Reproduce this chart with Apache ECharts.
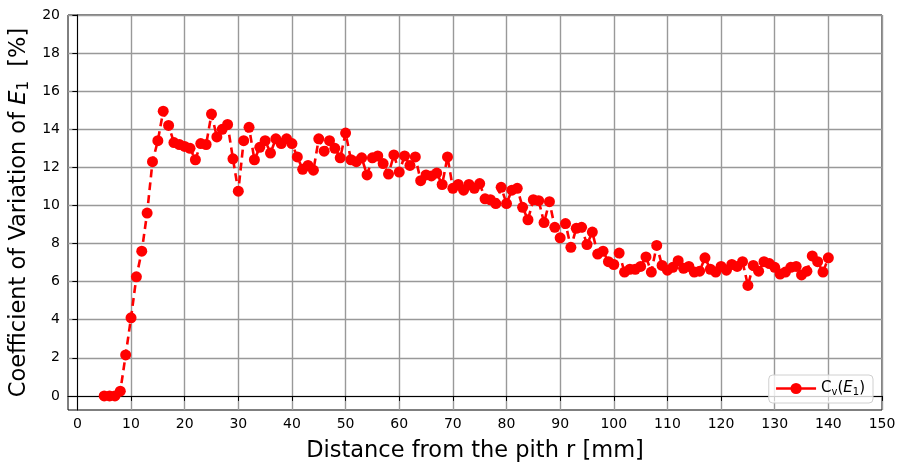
<!DOCTYPE html>
<html>
<head>
<meta charset="utf-8">
<script src="https://cdn.jsdelivr.net/npm/echarts@6/dist/echarts.min.js"></script>
<style>
html, body { margin: 0; padding: 0; background: #fff; }
#main { width: 901px; height: 465px; }
</style>
</head>
<body>
<div id="main"></div>
<script>
var radius = [5, 6, 7, 8, 9, 10, 11, 12, 13, 14, 15, 16, 17, 18, 19, 20, 21, 22, 23, 24,
	25, 26, 27, 28, 29, 30, 31, 32, 33, 34, 35, 36, 37, 38, 39, 40, 41, 42, 43, 44,
	45, 46, 47, 48, 49, 50, 51, 52, 53, 54, 55, 56, 57, 58, 59, 60, 61, 62, 63, 64,
	65, 66, 67, 68, 69, 70, 71, 72, 73, 74, 75, 76, 77, 78, 79, 80, 81, 82, 83, 84,
	85, 86, 87, 88, 89, 90, 91, 92, 93, 94, 95, 96, 97, 98, 99, 100, 101, 102, 103, 104,
	105, 106, 107, 108, 109, 110, 111, 112, 113, 114, 115, 116, 117, 118, 119, 120, 121, 122, 123, 124,
	125, 126, 127, 128, 129, 130, 131, 132, 133, 134, 135, 136, 137, 138, 139, 140];

var cvE1 = [0.0, 0.0, 0.0, 0.25, 2.15, 4.1, 6.25, 7.6, 9.6, 12.3, 13.4, 14.95, 14.2, 13.3, 13.2, 13.1,
	13.0, 12.4, 13.25, 13.2, 14.8, 13.6, 14.0, 14.25, 12.45, 10.75, 13.4, 14.1, 12.4, 13.05,
	13.4, 12.75, 13.5, 13.25, 13.5, 13.25, 12.55, 11.9, 12.1, 11.85, 13.5, 12.85, 13.4, 13.0,
	12.5, 13.8, 12.4, 12.3, 12.5, 11.6, 12.5, 12.6, 12.2, 11.65, 12.65, 11.75, 12.6, 12.1,
	12.55, 11.3, 11.6, 11.55, 11.7, 11.1, 12.55, 10.9, 11.1, 10.8, 11.1, 10.9, 11.15, 10.35,
	10.3, 10.1, 10.95, 10.1, 10.8, 10.9, 9.9, 9.25, 10.3, 10.25, 9.1, 10.2, 8.85, 8.3,
	9.05, 7.8, 8.8, 8.85, 7.95, 8.6, 7.45, 7.6, 7.05, 6.9, 7.5, 6.5, 6.65, 6.65,
	6.8, 7.3, 6.5, 7.9, 6.85, 6.6, 6.75, 7.1, 6.7, 6.8, 6.5, 6.55, 7.25, 6.65,
	6.5, 6.8, 6.6, 6.9, 6.8, 7.05, 5.8, 6.85, 6.55, 7.05, 6.95, 6.75, 6.4, 6.5,
	6.75, 6.8, 6.35, 6.55, 7.35, 7.05, 6.5, 7.25];

var xTicks = [0, 10, 20, 30, 40, 50, 60, 70, 80, 90, 100, 110, 120, 130, 140, 150];
var yTicks = [0, 2, 4, 6, 8, 10, 12, 14, 16, 18, 20];

var points = [];
for (var i = 0; i < radius.length; i++) {
	points.push([radius[i], cvE1[i]]);
}

var FONT = 'DejaVu Sans';
var myChart = echarts.init(document.getElementById('main'));

myChart.setOption({
	backgroundColor: '#fff',
	animation: false,
	textStyle: { fontFamily: FONT },
	grid: {
		left: 68, right: 19, top: 15, bottom: 55,
		outerBoundsMode: 'none',
		containLabel: false,
		show: true, borderColor: '#000', borderWidth: 1
	},
	legend: {
		right: 28, bottom: 62,
		orient: 'vertical',
		backgroundColor: 'rgba(255,255,255,0.8)',
		borderColor: '#d0d0d0', borderWidth: 1, borderRadius: 4,
		padding: [6, 8, 6, 6],
		itemWidth: 40, itemHeight: 14,
		lineStyle: { type: 'solid', width: 2.6 },
		formatter: function () {
			return '{n|C}{s|v}{n|(}{i|E}{s|1}{n|)}';
		},
		textStyle: {
			fontFamily: FONT,
			rich: {
				n: { fontSize: 15, fontFamily: FONT, color: '#000' },
				i: { fontSize: 15, fontFamily: FONT, fontStyle: 'italic', color: '#000' },
				s: { fontSize: 10, fontFamily: FONT, color: '#000', verticalAlign: 'bottom', padding: [7, 0, 0, 0] }
			}
		}
	},
	xAxis: {
		type: 'value',
		min: -1.75, max: 150,
		name: 'Distance from the pith r [mm]',
		nameLocation: 'middle', nameGap: 30,
		nameTextStyle: { fontSize: 22.5, fontFamily: FONT, color: '#000' },
		axisLine: { show: true, lineStyle: { color: '#000' } },
		axisTick: { show: true, length: 5, lineStyle: { color: '#000' }, customValues: xTicks },
		axisLabel: { fontSize: 14, color: '#000', fontFamily: FONT, margin: 7, customValues: xTicks },
		splitLine: { show: true, lineStyle: { color: '#999', width: 1.4 } }
	},
	yAxis: {
		type: 'value',
		min: -0.74, max: 20,
		name: '{n|Coefficient of Variation of }{i|E}{s|1}{n|  [%]}',
		nameLocation: 'middle', nameGap: 36,
		nameTextStyle: {
			fontFamily: FONT, color: '#000',
			rich: {
				n: { fontSize: 22.5, fontFamily: FONT, color: '#000' },
				i: { fontSize: 22.5, fontFamily: FONT, fontStyle: 'italic', color: '#000' },
				s: { fontSize: 15, fontFamily: FONT, color: '#000', padding: [9, 0, 0, 0] }
			}
		},
		axisLine: { show: true, lineStyle: { color: '#000' } },
		axisTick: { show: true, length: 5, lineStyle: { color: '#000' }, customValues: yTicks },
		axisLabel: { fontSize: 14, color: '#000', fontFamily: FONT, margin: 8, customValues: yTicks },
		splitLine: { show: true, lineStyle: { color: '#999', width: 1.4 } }
	},
	series: [{
		name: 'Cv(E1)',
		type: 'line',
		data: points,
		symbol: 'circle',
		symbolSize: 11,
		itemStyle: { color: '#ff0000' },
		lineStyle: { color: '#ff0000', width: 2.6, type: [8, 5] }
	}]
});
</script>
</body>
</html>
